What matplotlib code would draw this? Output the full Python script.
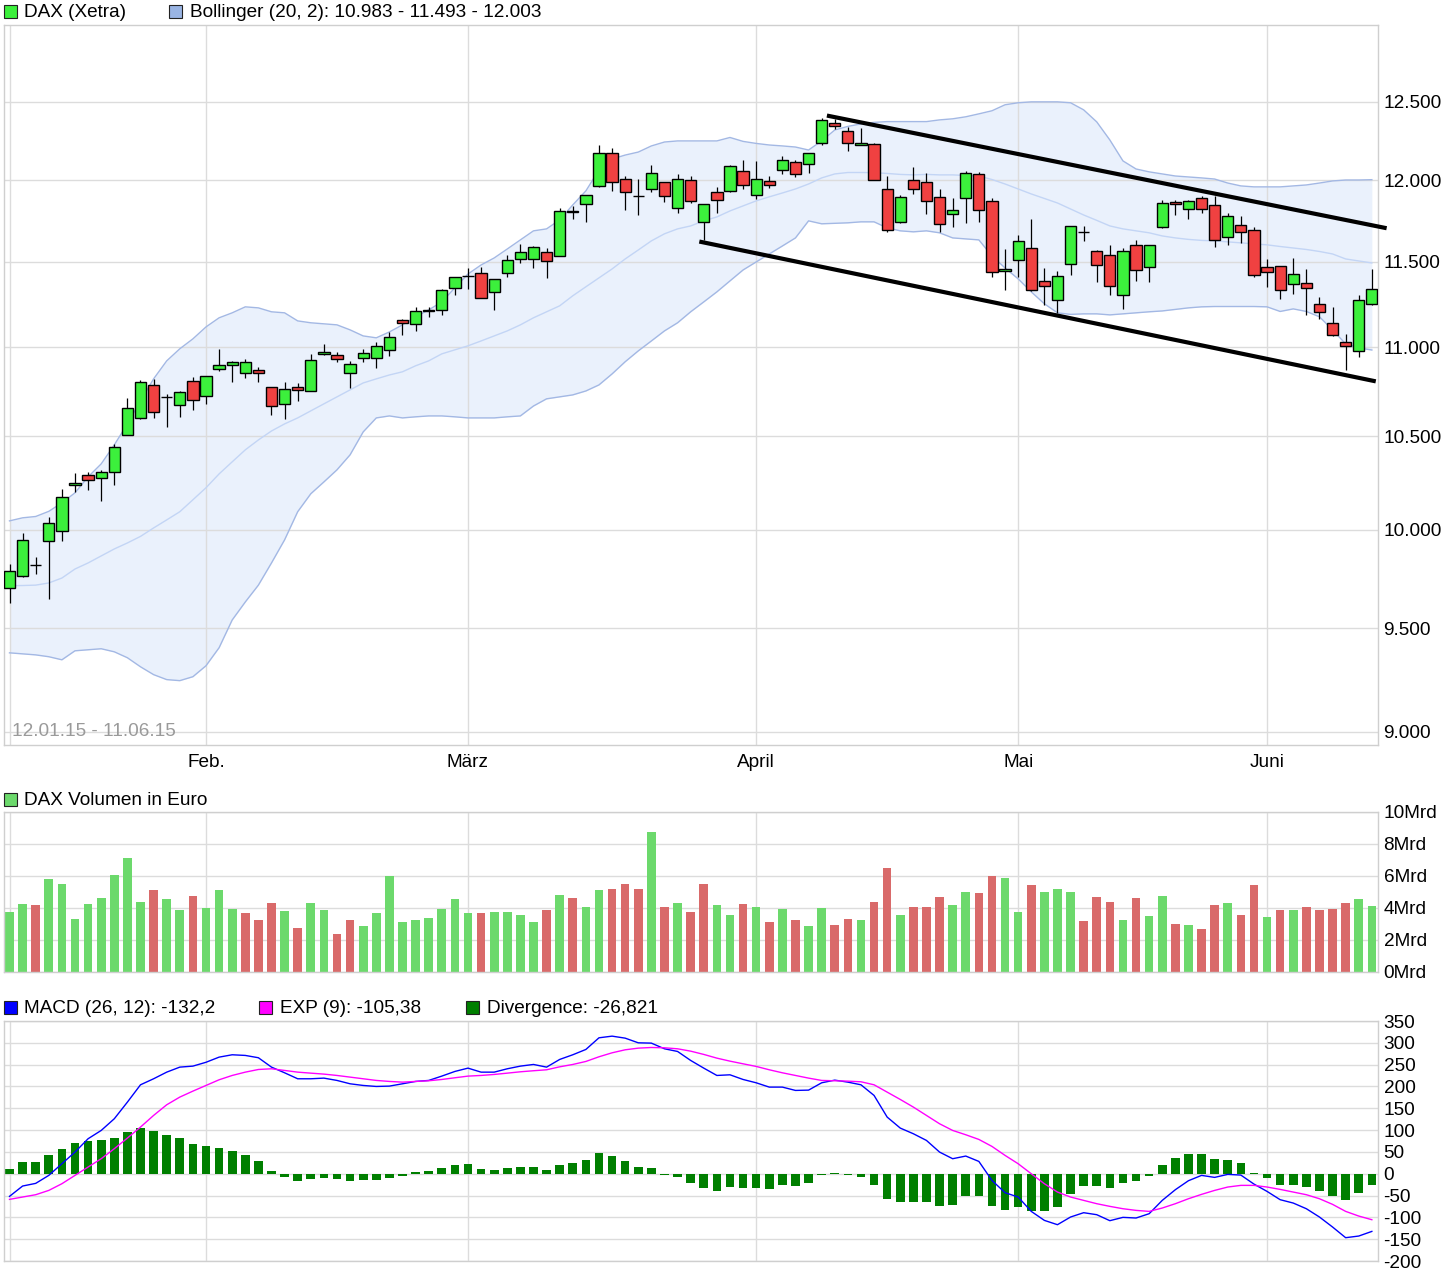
import matplotlib
matplotlib.use('Agg')
import matplotlib.pyplot as plt
import numpy as np
from matplotlib.patches import Rectangle
from matplotlib.ticker import FixedLocator, FuncFormatter, NullLocator, NullFormatter

plt.rcParams['font.family'] = ['Liberation Sans', 'DejaVu Sans']
plt.rcParams['axes.unicode_minus'] = False

# ---------------- data (trading days 12.01.15 - 11.06.15) ----------------
opens = [9702, 9764, 9820, 9941, 9993, 10238, 10290, 10273, 10305, 10505,
         10599, 10787, 10716, 10671, 10806, 10722, 10874, 10898, 10853, 10867,
         10772, 10680, 10774, 10750, 10960, 10952, 10850, 10937, 10937, 10982,
         11155, 11132, 11209, 11213, 11343, 11413, 11432, 11319, 11432, 11517,
         11517, 11557, 11533, 11807, 11852, 11962, 12169, 12005, 11904, 11943,
         11987, 11825, 11999, 11740, 11925, 11933, 12056, 11906, 11993, 12062,
         12112, 12100, 12233, 12362, 12310, 12220, 12227, 11943, 11740, 11999,
         11987, 11894, 11789, 11888, 12037, 11869, 11444, 11509, 11581, 11384,
         11272, 11485, 11683, 11563, 11539, 11302, 11599, 11467, 11713, 11863,
         11819, 11888, 11845, 11648, 11721, 11691, 11467, 11473, 11367, 11373,
         11249, 11138, 11028, 10977, 11249]
highs = [9824, 9983, 9858, 10066, 10215, 10300, 10307, 10316, 10456, 10712,
         10813, 10819, 10735, 10751, 10832, 10834, 10990, 10921, 10933, 10887,
         10772, 10802, 10796, 10961, 11018, 10973, 10923, 10990, 11030, 11086,
         11163, 11233, 11235, 11339, 11408, 11465, 11471, 11396, 11539, 11606,
         11596, 11583, 11827, 11838, 11906, 12221, 12200, 12026, 12005, 12096,
         11987, 12038, 12024, 11850, 11956, 12094, 12127, 12121, 12026, 12155,
         12125, 12169, 12394, 12388, 12336, 12329, 12233, 12024, 11906, 12081,
         12043, 11943, 11888, 12056, 12050, 11888, 11575, 11660, 11758, 11461,
         11444, 11716, 11716, 11571, 11599, 11581, 11630, 11599, 11877, 11877,
         11877, 11904, 11902, 11798, 11776, 11711, 11515, 11473, 11521, 11455,
         11290, 11231, 11074, 11302, 11455]
lows = [9626, 9757, 9770, 9644, 9944, 10197, 10211, 10154, 10234, 10505,
        10594, 10599, 10553, 10608, 10645, 10680, 10861, 10803, 10826, 10803,
        10619, 10596, 10697, 10750, 10952, 10912, 10770, 10912, 10880, 10950,
        11072, 11095, 11176, 11188, 11305, 11337, 11284, 11215, 11412, 11495,
        11465, 11406, 11533, 11758, 11744, 11955, 11935, 11817, 11787, 11929,
        11863, 11799, 11860, 11632, 11799, 11925, 11947, 11881, 11950, 12037,
        12017, 12047, 12220, 12327, 12181, 12220, 11999, 11677, 11732, 11912,
        11790, 11679, 11713, 11734, 11744, 11412, 11335, 11412, 11325, 11243,
        11196, 11420, 11624, 11382, 11305, 11223, 11388, 11382, 11707, 11783,
        11762, 11795, 11587, 11599, 11612, 11408, 11349, 11278, 11308, 11188,
        11161, 11062, 10868, 10944, 11243]
closes = [9788, 9946, 9817, 10038, 10172, 10248, 10262, 10305, 10440, 10654,
          10800, 10632, 10718, 10744, 10699, 10834, 10897, 10914, 10916, 10850,
          10665, 10761, 10755, 10925, 10971, 10931, 10901, 10965, 11005, 11057,
          11138, 11208, 11212, 11331, 11408, 11417, 11284, 11396, 11509, 11557,
          11588, 11503, 11807, 11803, 11906, 12169, 11988, 11925, 11900, 12043,
          11900, 12009, 11869, 11850, 11877, 12088, 11968, 12005, 11968, 12125,
          12037, 12169, 12381, 12342, 12233, 12235, 11999, 11691, 11894, 11943,
          11869, 11728, 11813, 12043, 11813, 11437, 11456, 11624, 11331, 11355,
          11414, 11716, 11679, 11479, 11355, 11563, 11450, 11599, 11857, 11851,
          11869, 11819, 11630, 11776, 11679, 11420, 11437, 11331, 11426, 11343,
          11202, 11068, 11005, 11272, 11339]

boll_upper = [10047, 10063, 10070, 10097, 10142, 10195, 10280, 10350, 10453, 10568,
              10695, 10819, 10921, 10990, 11047, 11116, 11169, 11198, 11233, 11227,
              11204, 11198, 11151, 11140, 11134, 11128, 11099, 11064, 11053, 11087,
              11128, 11175, 11215, 11262, 11345, 11427, 11481, 11523, 11577, 11632,
              11687, 11699, 11754, 11846, 11933, 12064, 12133, 12158, 12177, 12216,
              12241, 12248, 12248, 12248, 12248, 12270, 12245, 12232, 12222, 12216,
              12209, 12190, 12248, 12318, 12341, 12357, 12367, 12372, 12372, 12372,
              12372, 12383, 12390, 12403, 12422, 12442, 12481, 12494, 12500, 12500,
              12500, 12494, 12448, 12370, 12254, 12121, 12070, 12052, 12039, 12026,
              12020, 12014, 12007, 11982, 11964, 11958, 11958, 11958, 11964, 11970,
              11982, 11995, 12001, 12001, 12003]
boll_mid = [9713, 9714, 9716, 9727, 9752, 9798, 9829, 9865, 9901, 9932,
            9966, 10010, 10052, 10095, 10158, 10222, 10296, 10361, 10426, 10480,
            10529, 10568, 10601, 10640, 10679, 10718, 10757, 10796, 10819, 10841,
            10859, 10893, 10921, 10961, 10984, 11007, 11035, 11064, 11093, 11128,
            11169, 11204, 11239, 11298, 11351, 11404, 11457, 11517, 11571, 11626,
            11669, 11699, 11717, 11748, 11772, 11809, 11840, 11871, 11896, 11920,
            11945, 11976, 12014, 12039, 12048, 12048, 12047, 12042, 12036, 12033,
            12036, 12033, 12033, 12029, 12026, 12004, 11976, 11945, 11914, 11886,
            11858, 11821, 11784, 11751, 11717, 11699, 11687, 11675, 11656, 11644,
            11635, 11629, 11626, 11620, 11614, 11608, 11602, 11592, 11583, 11574,
            11562, 11547, 11517, 11505, 11493]
boll_lower = [9379, 9374, 9369, 9360, 9345, 9389, 9394, 9399, 9384, 9355,
              9311, 9273, 9249, 9244, 9263, 9316, 9404, 9541, 9631, 9716,
              9829, 9948, 10095, 10190, 10253, 10318, 10399, 10524, 10601, 10612,
              10601, 10607, 10612, 10612, 10607, 10601, 10601, 10601, 10607, 10612,
              10667, 10707, 10718, 10729, 10751, 10785, 10847, 10916, 10978, 11035,
              11093, 11140, 11204, 11262, 11321, 11386, 11451, 11499, 11547, 11595,
              11644, 11748, 11730, 11733, 11736, 11742, 11742, 11705, 11687, 11681,
              11687, 11675, 11644, 11638, 11632, 11535, 11463, 11398, 11321, 11251,
              11198, 11189, 11192, 11192, 11186, 11192, 11198, 11204, 11209, 11218,
              11227, 11233, 11235, 11235, 11235, 11235, 11233, 11206, 11221, 11206,
              11175, 11099, 11018, 10995, 10983]

volume_mrd = [3.75, 4.25, 4.19, 5.81, 5.5, 3.31, 4.25, 4.63, 6.06, 7.13,
              4.38, 5.13, 4.56, 3.88, 4.75, 4.0, 5.13, 3.94, 3.69, 3.25,
              4.31, 3.81, 2.75, 4.31, 3.88, 2.38, 3.25, 2.88, 3.69, 6.0,
              3.13, 3.25, 3.38, 3.94, 4.56, 3.69, 3.69, 3.75, 3.75, 3.56,
              3.13, 3.88, 4.81, 4.63, 4.06, 5.13, 5.19, 5.5, 5.19, 8.75,
              4.06, 4.31, 3.75, 5.5, 4.19, 3.56, 4.25, 4.06, 3.13, 3.94,
              3.25, 2.88, 4.0, 2.94, 3.31, 3.25, 4.38, 6.5, 3.56, 4.06,
              4.06, 4.69, 4.19, 5.0, 4.94, 6.0, 5.88, 3.75, 5.44, 5.0,
              5.19, 5.0, 3.19, 4.69, 4.38, 3.25, 4.63, 3.5, 4.75, 3.0,
              2.94, 2.69, 4.19, 4.31, 3.56, 5.44, 3.44, 3.88, 3.88, 4.06,
              3.88, 3.94, 4.31, 4.56, 4.13]
# g = up day (green), r = down day (red)
volume_dir = ("ggrggggggg" "grggrgggrr" "rgrggrrggg" "ggggggrggg" "grgrggrrrg"
              "rgrrggrgrg" "rggrrgrrgr" "rrggrrggrg" "ggrrrgrggr" "grrgrrgrgr"
              "rrrgg")

macd = [-51.9, -28.2, -22.1, -3.8, 22.9, 49.6, 80.2, 99.2, 126.0, 164.1,
        203.8, 217.6, 232.8, 244.3, 246.6, 255.4, 267.2, 272.6, 271.1, 265.8,
        244.3, 231.3, 217.6, 217.6, 219.1, 213.8, 206.1, 202.3, 200.0, 200.8,
        206.1, 211.5, 213.8, 223.7, 234.4, 242.0, 232.8, 232.8, 240.5, 246.6,
        250.4, 244.3, 261.9, 272.6, 284.8, 311.5, 315.3, 310.7, 300.0, 299.3,
        286.3, 280.2, 259.6, 242.0, 225.2, 226.7, 216.0, 208.4, 198.5, 198.5,
        190.9, 191.6, 208.4, 214.5, 209.9, 203.8, 179.4, 129.8, 104.6, 91.6,
        76.3, 49.6, 34.4, 40.5, 28.2, -15.3, -43.5, -53.4, -86.3, -106.9,
        -116.8, -99.2, -89.3, -93.9, -107.6, -100.0, -101.5, -91.6, -61.1, -36.6,
        -16.0, -3.8, -8.4, -1.5, -3.1, -23.7, -40.5, -59.5, -67.2, -80.2,
        -99.2, -122.1, -146.6, -142.8, -132.2]
signal = [-58.8, -53.4, -48.1, -38.2, -22.9, -3.8, 15.3, 34.4, 57.3, 81.7,
          106.9, 133.6, 158.0, 175.6, 189.3, 202.3, 215.3, 225.2, 232.8, 238.9,
          240.5, 236.7, 232.8, 230.5, 228.3, 225.2, 221.4, 217.6, 213.8, 211.5,
          209.9, 211.5, 213.0, 216.0, 219.9, 223.7, 225.2, 227.5, 230.5, 233.6,
          236.0, 238.2, 245.0, 250.4, 257.3, 268.0, 277.1, 284.0, 287.8, 289.3,
          288.6, 286.3, 280.9, 273.4, 264.9, 258.0, 251.9, 245.9, 238.2, 231.3,
          225.2, 219.1, 213.8, 213.0, 212.2, 210.7, 203.8, 187.0, 170.2, 152.7,
          133.6, 114.5, 99.2, 89.3, 78.6, 62.6, 42.0, 22.9, 0.0, -22.9,
          -42.0, -53.4, -61.1, -68.7, -74.8, -80.2, -84.0, -86.3, -78.6, -68.7,
          -57.3, -47.3, -38.2, -30.5, -26.7, -26.7, -30.5, -35.9, -42.0, -48.1,
          -57.3, -70.2, -86.3, -97.0, -105.38]
divergence = [9.9, 26.0, 26.0, 42.0, 55.7, 69.5, 74.0, 76.3, 80.9, 94.7,
              105.3, 97.0, 87.8, 80.9, 67.2, 62.6, 58.0, 51.1, 42.0, 28.2,
              5.3, -8.4, -16.8, -12.2, -9.9, -12.2, -16.8, -14.5, -14.5, -9.9,
              -5.3, 3.0, 6.0, 12.2, 19.0, 21.4, 10.7, 7.6, 12.2, 14.5,
              14.5, 7.6, 19.0, 23.7, 30.5, 46.6, 39.7, 28.2, 14.5, 12.2,
              -3.8, -8.4, -22.1, -33.2, -39.7, -30.5, -32.8, -32.8, -35.1, -25.2,
              -28.2, -21.4, -3.8, 2.0, -2.0, -7.6, -26.0, -58.0, -64.9, -64.9,
              -64.9, -74.0, -71.8, -51.1, -51.1, -74.0, -83.2, -76.3, -85.5, -85.5,
              -76.3, -46.6, -28.2, -28.2, -32.8, -21.4, -16.8, -5.3, 20.6, 36.6,
              45.8, 45.8, 34.4, 32.1, 25.2, 2.3, -9.9, -26.0, -26.0, -30.5,
              -39.7, -51.1, -60.3, -44.3, -26.821]

# drawn trend channel (day index, price)
trend_upper_x = [62.4, 105.13]
trend_upper_y = [12411, 11703]
trend_lower_x = [52.66, 104.3]
trend_lower_y = [11622, 10805]

month_pos = [0, 15, 35, 57, 77, 96]
month_labels = ['', 'Feb.', 'März', 'April', 'Mai', 'Juni']
price_ticks = [9000, 9500, 10000, 10500, 11000, 11500, 12000, 12500]
vol_ticks = [0, 2, 4, 6, 8, 10]
macd_ticks = [-200, -150, -100, -50, 0, 50, 100, 150, 200, 250, 300, 350]

# ---------------- figure ----------------
W, H = 1452, 1280
fig = plt.figure(figsize=(W / 100, H / 100), dpi=100)
FS = 13.7
GRID = '#dcdcdc'
SPINE = '#cfcfcf'


def fx(px):
    return px / W


def fy(py):
    return 1 - py / H


def make_ax(top, bottom):
    ax = fig.add_axes([fx(4), fy(bottom), fx(1378) - fx(4), fy(top) - fy(bottom)])
    ax.set_axisbelow('line')
    for s in ax.spines.values():
        s.set_color(SPINE)
        s.set_linewidth(1.0)
    ax.yaxis.tick_right()
    ax.tick_params(axis='both', length=0, labelsize=FS, colors='black')
    ax.tick_params(axis='y', pad=4)
    ax.xaxis.set_major_locator(FixedLocator(month_pos))
    ax.grid(True, color=GRID, linewidth=1.0)
    ax.set_xlim(-0.42, 104.47)
    return ax


x = np.arange(len(closes))
o = np.array(opens, float)
c = np.array(closes, float)
h = np.array(highs, float)
l = np.array(lows, float)

# ---- price panel ----
ax1 = make_ax(25, 745)
ax1.set_yscale('log')
ax1.set_ylim(8939, 13011)
ax1.yaxis.set_major_locator(FixedLocator(price_ticks))
ax1.yaxis.set_minor_locator(NullLocator())
ax1.yaxis.set_minor_formatter(NullFormatter())
ax1.yaxis.set_major_formatter(FuncFormatter(lambda v, p: f"{int(round(v)):,}".replace(',', '.')))
ax1.set_xticklabels(month_labels)
ax1.tick_params(axis='x', pad=6.5)

ax1.fill_between(x, boll_lower, boll_upper, color='#eaf1fc', zorder=0.8, linewidth=0)
ax1.plot(x, boll_upper, color='#a3b8e4', lw=1.0, zorder=1.6)
ax1.plot(x, boll_lower, color='#a3b8e4', lw=1.0, zorder=1.6)
ax1.plot(x, boll_mid, color='#c3d5f5', lw=1.0, zorder=1.6)

up = c >= o
body_col = np.where(up, '#3cf03c', '#f04141')
ax1.vlines(x, l, h, color='black', lw=0.9, zorder=2.5)
ax1.bar(x, np.abs(c - o), bottom=np.minimum(o, c), width=0.86, color=body_col,
        edgecolor='black', linewidth=1.0, zorder=3)

ax1.plot(trend_upper_x, trend_upper_y, color='black', lw=3.0, clip_on=False,
         solid_capstyle='butt', zorder=4)
ax1.plot(trend_lower_x, trend_lower_y, color='black', lw=3.0, clip_on=False,
         solid_capstyle='butt', zorder=4)

ax1.text(fx(12 - 4) / (fx(1378) - fx(4)), 1 - (731 - 25) / 720, '12.01.15 - 11.06.15',
         transform=ax1.transAxes, fontsize=FS, color='#9a9a9a', va='center', ha='left')

# ---- volume panel ----
ax2 = make_ax(812, 972)
ax2.set_ylim(0, 10)
ax2.yaxis.set_major_locator(FixedLocator(vol_ticks))
ax2.yaxis.set_major_formatter(FuncFormatter(lambda v, p: f"{int(round(v))}Mrd"))
ax2.set_xticklabels([])
vcol = ['#6cd96c' if d == 'g' else '#d96a6a' for d in volume_dir]
ax2.bar(x, volume_mrd, width=0.66, color=vcol, zorder=2)

# ---- MACD panel ----
ax3 = make_ax(1021, 1261)
ax3.set_ylim(-200, 350)
ax3.yaxis.set_major_locator(FixedLocator(macd_ticks))
ax3.yaxis.set_major_formatter(FuncFormatter(lambda v, p: f"{int(round(v))}"))
ax3.set_xticklabels([])
ax3.bar(x, divergence, width=0.66, color='#007f00', zorder=2)
ax3.plot(x, macd, color='#0000ff', lw=1.0, zorder=3)
ax3.plot(x, signal, color='#ff00ff', lw=1.0, zorder=3)


# ---- legends ----
def legend_item(px, py, color, text, tx):
    fig.add_artist(Rectangle((fx(px), fy(py + 7)), 13 / W, 13 / H, transform=fig.transFigure,
                             facecolor=color, edgecolor='#222222', linewidth=0.8))
    fig.text(fx(tx), fy(py + 1.5), text, fontsize=FS, va='center', ha='left', color='black')


legend_item(4, 11, '#3cf03c', 'DAX (Xetra)', 24)
legend_item(169, 11, '#99b4e3', 'Bollinger (20, 2): 10.983 - 11.493 - 12.003', 190)
legend_item(4, 799, '#6cd96c', 'DAX Volumen in Euro', 24)
legend_item(4, 1007, '#0000ff', 'MACD (26, 12): -132,2', 24)
legend_item(259, 1007, '#ff00ff', 'EXP (9): -105,38', 280)
legend_item(466, 1007, '#007f00', 'Divergence: -26,821', 487)

fig.savefig('out.png', dpi=100)
